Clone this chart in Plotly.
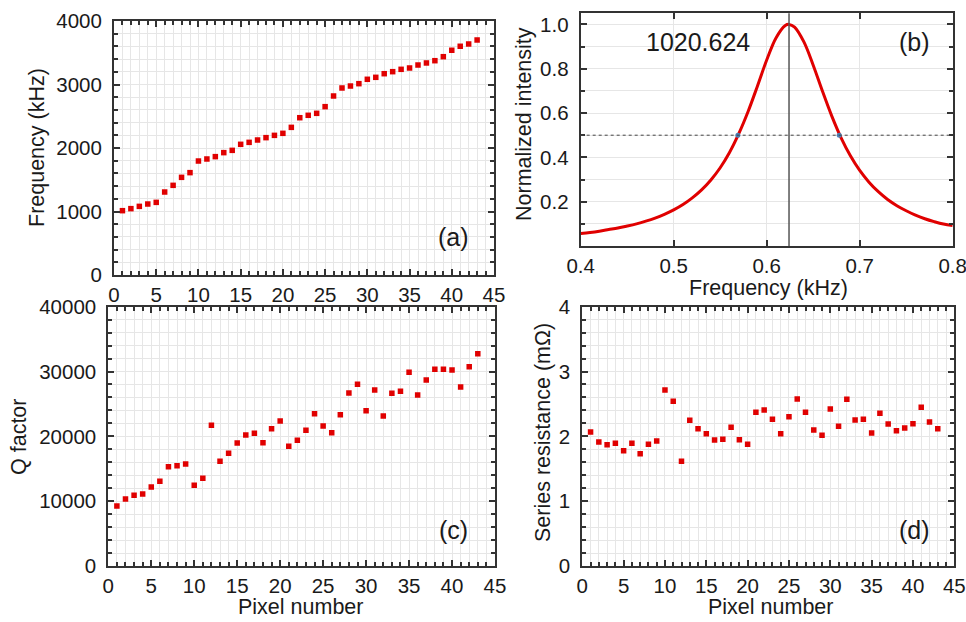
import plotly.graph_objects as go

# ---------------- data ----------------
pixels = list(range(1, 44))

freq_khz = [1013, 1045, 1081, 1118, 1144, 1307, 1412, 1538, 1612, 1795,
            1827, 1864, 1927, 1963, 2058, 2089, 2126, 2163, 2199, 2231,
            2325, 2477, 2515, 2546, 2651, 2819, 2945, 2976, 3013, 3082,
            3113, 3170, 3202, 3239, 3260, 3307, 3339, 3375, 3438, 3539,
            3602, 3638, 3701]

q_factor = [9256, 10335, 10900, 11107, 12187, 13060, 15320, 15475, 15735, 12444,
            13523, 21700, 16147, 17380, 18974, 20208, 20465, 19026, 21183, 22368,
            18460, 19386, 20930, 23497, 21597, 20568, 23343, 26687, 28024, 23960,
            27150, 23139, 26636, 26945, 29874, 26378, 28692, 30337, 30337, 30235,
            27612, 30750, 32750]

series_res = [2.067, 1.913, 1.872, 1.892, 1.779, 1.892, 1.733, 1.877, 1.928, 2.715,
              2.540, 1.615, 2.247, 2.118, 2.041, 1.944, 1.954, 2.139, 1.949, 1.877,
              2.371, 2.406, 2.262, 2.041, 2.304, 2.576, 2.371, 2.098, 2.016, 2.422,
              2.155, 2.571, 2.252, 2.262, 2.052, 2.355, 2.190, 2.087, 2.129, 2.195,
              2.448, 2.221, 2.118]

spec_freq = [0.40, 0.41, 0.42, 0.43, 0.44, 0.45, 0.46, 0.47, 0.48, 0.49,
             0.50, 0.51, 0.52, 0.53, 0.54, 0.55, 0.56, 0.57, 0.58, 0.59,
             0.60, 0.61, 0.62, 0.624, 0.63, 0.64, 0.65, 0.66, 0.67, 0.68,
             0.69, 0.70, 0.71, 0.72, 0.73, 0.74, 0.75, 0.76, 0.77, 0.78,
             0.79, 0.80]
spec_int = [0.056, 0.061, 0.067, 0.074, 0.081, 0.090, 0.100, 0.112, 0.126, 0.143,
            0.163, 0.187, 0.217, 0.253, 0.298, 0.353, 0.422, 0.507, 0.607, 0.721,
            0.839, 0.939, 0.995, 1.000, 0.988, 0.921, 0.816, 0.698, 0.586, 0.488,
            0.407, 0.341, 0.288, 0.245, 0.210, 0.182, 0.159, 0.139, 0.123, 0.110,
            0.099, 0.092]
peak_freq = 0.624
half_level = 0.5
half_pts_x = [0.569, 0.678]
half_pts_y = [0.5, 0.5]
peak_label = "1020.624"

x_ticks_pix = [0, 5, 10, 15, 20, 25, 30, 35, 40, 45]
freq_ticks = [0, 1000, 2000, 3000, 4000]
q_ticks = [0, 10000, 20000, 30000, 40000]
r_ticks = [0, 1, 2, 3, 4]
spec_xticks = [0.4, 0.5, 0.6, 0.7, 0.8]
spec_yticks = [0.2, 0.4, 0.6, 0.8, 1.0]

# ---------------- figure ----------------
W, H = 966, 622
FONT = "Arial, Liberation Sans, sans-serif"
RED = "#e00000"
GRID = "#e6e6e6"
AX = "#333333"
TXT = "#1a1a1a"


def dom_x(a, b):
    return [a / W, b / W]


def dom_y(top, bottom):
    return [1 - bottom / H, 1 - top / H]


def px(x):
    return x / W


def py(y):
    return 1 - y / H


fig = go.Figure()

marker = dict(symbol="square", size=5.5, color=RED)
fig.add_trace(go.Scatter(x=pixels, y=freq_khz, mode="markers", marker=marker,
                         xaxis="x", yaxis="y", showlegend=False))
fig.add_trace(go.Scatter(x=spec_freq, y=spec_int, mode="lines",
                         line=dict(color=RED, width=3, shape="spline"),
                         xaxis="x2", yaxis="y2", showlegend=False))
fig.add_trace(go.Scatter(x=half_pts_x, y=half_pts_y, mode="markers",
                         marker=dict(color="#4a7fb5", size=5),
                         xaxis="x2", yaxis="y2", showlegend=False))
fig.add_trace(go.Scatter(x=pixels, y=q_factor, mode="markers", marker=marker,
                         xaxis="x3", yaxis="y3", showlegend=False))
fig.add_trace(go.Scatter(x=pixels, y=series_res, mode="markers", marker=marker,
                         xaxis="x4", yaxis="y4", showlegend=False))

tickfont = dict(family=FONT, size=20.5, color=TXT)


def axis_common(standoff):
    return dict(showline=True, linecolor=AX, linewidth=2, mirror="allticks",
                ticks="inside", ticklen=6, tickwidth=1.5, tickcolor=AX,
                tickfont=tickfont, showgrid=True, gridcolor=GRID, gridwidth=1,
                zeroline=False, automargin=False, ticklabelstandoff=standoff,
                ticklabeloverflow="allow")


def minor(dt):
    return dict(dtick=dt, tick0=0, ticks="inside", ticklen=4, tickcolor=AX,
                showgrid=True, gridcolor=GRID)


def pix_xaxis(domain, anchor):
    d = axis_common(0)
    d.update(domain=domain, anchor=anchor, range=[0, 45], tickvals=x_ticks_pix,
             minor=minor(1))
    return d


# panel a
xa = pix_xaxis(dom_x(114, 494), "y")
ya = axis_common(6)
ya.update(domain=dom_y(21, 275), anchor="x", range=[0, 4000], tickvals=freq_ticks,
          tickformat="d", minor=minor(200))

# panel b
xb = axis_common(0)
xb.update(domain=dom_x(580.7, 952.7), anchor="y2", range=[0.4, 0.8],
          tickvals=spec_xticks, tickformat=".1f")
yb = axis_common(6)
yb.update(domain=dom_y(13.3, 246), anchor="x2", range=[0, 1.05],
          tickvals=spec_yticks, tickformat=".1f", minor=minor(0.1))

# panel c
xc = pix_xaxis(dom_x(108.3, 495), "y3")
yc = axis_common(6)
yc.update(domain=dom_y(306.7, 566), anchor="x3", range=[0, 40000], tickvals=q_ticks,
          tickformat="d", minor=minor(2000))

# panel d
xd = pix_xaxis(dom_x(582.3, 954.3), "y4")
yd = axis_common(6)
yd.update(domain=dom_y(306.7, 566), anchor="x4", range=[0, 4], tickvals=r_ticks,
          tickformat="d", minor=minor(0.2))

fig.update_layout(
    width=W, height=H,
    margin=dict(l=0, r=0, t=0, b=0),
    paper_bgcolor="white", plot_bgcolor="white",
    font=dict(family=FONT, color=TXT),
    xaxis=xa, yaxis=ya, xaxis2=xb, yaxis2=yb,
    xaxis3=xc, yaxis3=yc, xaxis4=xd, yaxis4=yd,
)

# reference lines in panel b
fig.add_shape(type="line", xref="x2", yref="y2 domain", x0=peak_freq, x1=peak_freq,
              y0=0, y1=1, line=dict(color="#555", width=1.5))
fig.add_shape(type="line", xref="x2 domain", yref="y2", x0=0, x1=1,
              y0=half_level, y1=half_level, line=dict(color="#444", width=1, dash="dot"))

# axis titles
tf = dict(family=FONT, size=21.5, color=TXT)
titles = [
    ("Frequency (kHz)", 37, 148, -90),
    ("Q factor", 19, 437, -90),
    ("Normalized intensity", 524, 124, -90),
    ("Series resistance (mΩ)", 543, 433, -90),
    ("Frequency (kHz)", 768, 288, 0),
    ("Pixel number", 300, 607, 0),
    ("Pixel number", 770, 607, 0),
]
for text, x, y, ang in titles:
    fig.add_annotation(text=text, xref="paper", yref="paper", x=px(x), y=py(y),
                       xanchor="center", yanchor="middle", textangle=ang,
                       showarrow=False, font=tf)

# panel labels
labfont = dict(family=FONT, size=25, color=TXT)
labels = [(peak_label, 698, 42), ("(b)", 914, 42), ("(a)", 453, 237),
          ("(c)", 453, 530), ("(d)", 914, 530)]
for text, x, y in labels:
    fig.add_annotation(text=text, xref="paper", yref="paper", x=px(x), y=py(y),
                       xanchor="center", yanchor="middle", showarrow=False,
                       font=labfont)

fig.write_html(
    "out.html",
    config={"displayModeBar": False},
    post_script="document.body.style.margin='0';document.body.style.overflow='hidden';",
)
